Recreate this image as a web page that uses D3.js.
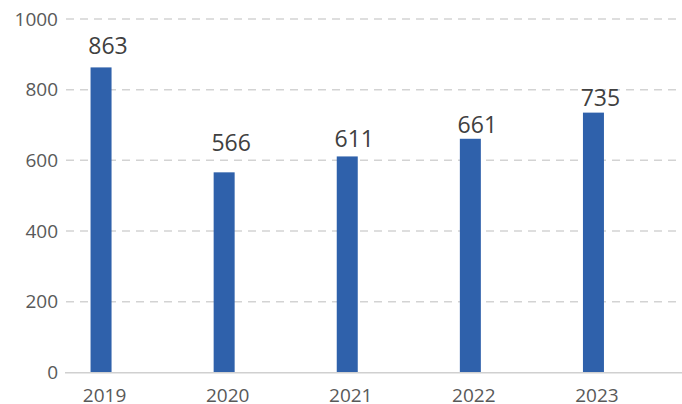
<!DOCTYPE html>
<html>
<head>
<meta charset="utf-8">
<script src="https://cdn.jsdelivr.net/npm/d3@7"></script>
<style>
  body { margin: 0; background: #fff; }
  text { font-family: "Open Sans", "Noto Sans", sans-serif; }
</style>
</head>
<body>
<div id="container"></div>
<script>
/* chart data */
var years = ["2019", "2020", "2021", "2022", "2023"];
var values = [863, 566, 611, 661, 735];
var yTicks = [0, 200, 400, 600, 800, 1000];
// how far each value label floats above its bar (px), as in the original
var labelLift = [13, 21, 9, 6, 7];

var width = 682, height = 404;

var svg = d3.select("#container").append("svg")
    .attr("width", width)
    .attr("height", height);

// category centres sit at the x labels; bars are a little left of them
var x = d3.scaleBand()
    .domain(years)
    .range([43, 658.5]);

var y = d3.scaleLinear()
    .domain([0, 1000])
    .range([372.3, 19]);

var barW = 21;

function barCenter(i) {
    return x(years[i]) + x.bandwidth() / 2 - 3.5;
}

/* gridlines */
svg.append("g")
  .selectAll("line")
  .data(yTicks.filter(function(d) { return d > 0; }))
  .enter().append("line")
    .attr("x1", 66)
    .attr("x2", 682)
    .attr("y1", function(d) { return y(d); })
    .attr("y2", function(d) { return y(d); })
    .attr("stroke", "#d3d3d3")
    .attr("stroke-width", 1.5)
    .attr("stroke-dasharray", "8,6");

/* y tick labels */
svg.append("g")
  .selectAll("text")
  .data(yTicks)
  .enter().append("text")
    .attr("x", 58)
    .attr("y", function(d) { return y(d); })
    .attr("dy", "0.35em")
    .attr("text-anchor", "end")
    .attr("fill", "#595959")
    .style("font-size", "19px")
    .text(function(d) { return d; });

/* bars */
svg.append("g")
  .selectAll("rect")
  .data(values)
  .enter().append("rect")
    .attr("x", function(d, i) { return barCenter(i) - barW / 2; })
    .attr("y", function(d) { return y(d); })
    .attr("width", barW)
    .attr("height", function(d) { return y(0) - y(d); })
    .attr("fill", "#2f61ab");

/* x axis line */
svg.append("line")
    .attr("x1", 65)
    .attr("x2", 682)
    .attr("y1", y(0) + 0.5)
    .attr("y2", y(0) + 0.5)
    .attr("stroke", "#d0d0d0")
    .attr("stroke-width", 1.5);

/* x labels */
svg.append("g")
  .selectAll("text")
  .data(years)
  .enter().append("text")
    .attr("x", function(d) { return x(d) + x.bandwidth() / 2; })
    .attr("y", 401.5)
    .attr("text-anchor", "middle")
    .attr("fill", "#595959")
    .style("font-size", "19px")
    .text(function(d) { return d; });

/* value labels */
svg.append("g")
  .selectAll("text")
  .data(values)
  .enter().append("text")
    .attr("x", function(d, i) { return barCenter(i) + 7; })
    .attr("y", function(d, i) { return y(d) - labelLift[i]; })
    .attr("text-anchor", "middle")
    .attr("fill", "#404040")
    .style("font-size", "23px")
    .text(function(d) { return d; });
</script>
</body>
</html>
